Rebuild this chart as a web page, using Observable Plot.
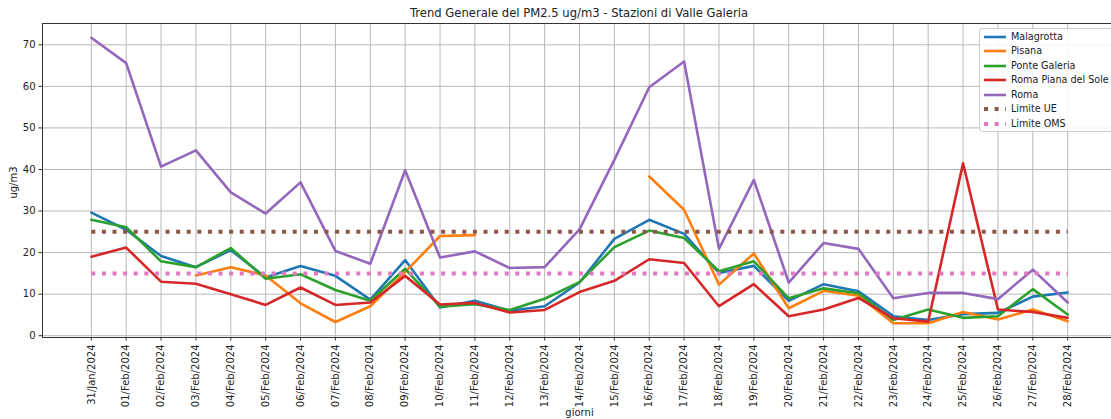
<!DOCTYPE html>
<html><head><meta charset="utf-8">
<script src="https://cdn.jsdelivr.net/npm/d3@7"></script>
<script src="https://cdn.jsdelivr.net/npm/@observablehq/plot@0.6"></script>
<style>
html,body{margin:0;padding:0;background:#fff;overflow:hidden;}
#wrap{position:relative;width:1111px;height:419px;overflow:hidden;font-family:"DejaVu Sans",sans-serif;color:#222;}
#title{height:18px;box-sizing:border-box;padding-top:4px;line-height:18px;font-size:11.6px;text-align:center;width:1074px;margin-left:42px;white-space:nowrap;}
#legend{position:absolute;left:979px;top:28px;width:140px;height:104px;box-sizing:border-box;border:1px solid #ccc;border-radius:3px;background:rgba(255,255,255,0.85);}
.row{position:absolute;left:2px;height:14px;font-size:9.6px;line-height:14px;white-space:nowrap;}
.row svg{position:absolute;left:0;top:2px;}
.row span{position:absolute;left:29px;top:0;}
</style></head><body>
<div id="wrap">
<div id="title">Trend Generale del PM2.5 ug/m3 - Stazioni di Valle Galeria</div>
<div id="chart"></div>
<div id="legend"></div>
</div>
<script>
const dates = ["31/Jan/2024","01/Feb/2024","02/Feb/2024","03/Feb/2024","04/Feb/2024","05/Feb/2024","06/Feb/2024","07/Feb/2024","08/Feb/2024","09/Feb/2024","10/Feb/2024","11/Feb/2024","12/Feb/2024","13/Feb/2024","14/Feb/2024","15/Feb/2024","16/Feb/2024","17/Feb/2024","18/Feb/2024","19/Feb/2024","20/Feb/2024","21/Feb/2024","22/Feb/2024","23/Feb/2024","24/Feb/2024","25/Feb/2024","26/Feb/2024","27/Feb/2024","28/Feb/2024"];
const malagrotta = [29.6,25.5,19.2,16.5,20.6,14.0,16.8,14.4,8.7,18.2,6.8,8.4,6.0,7.1,12.8,23.3,27.9,24.5,15.1,16.8,8.4,12.4,10.7,4.7,3.8,5.2,5.5,9.4,10.4];
const pisana = [null,null,null,14.5,16.5,14.5,7.8,3.3,7.1,15.3,24.0,24.2,null,null,null,null,38.3,30.3,12.3,19.8,6.6,10.8,9.6,3.0,3.0,5.7,3.9,6.3,3.5];
const ponteGaleria = [27.9,26.1,17.9,16.5,21.1,13.7,14.8,11.0,8.4,16.1,7.0,7.6,6.2,8.9,12.9,21.3,25.3,23.5,15.5,17.9,9.0,11.4,10.2,3.8,6.3,4.3,4.7,11.2,5.1];
const romaPianaDelSole = [19.0,21.2,13.0,12.5,10.0,7.4,11.6,7.4,8.0,14.4,7.5,7.9,5.6,6.2,10.5,13.2,18.4,17.5,7.1,12.4,4.7,6.3,9.1,4.2,3.4,41.5,6.3,5.7,4.3];
const roma = [71.7,65.6,40.7,44.6,34.5,29.4,36.9,20.4,17.3,39.8,18.8,20.3,16.3,16.5,25.6,42.3,59.8,66.0,20.9,37.5,12.8,22.3,20.9,9.0,10.3,10.3,8.8,15.9,8.0];
const limiteUE = 25;
const limiteOMS = 15;
const seriesNames = ["Malagrotta","Pisana","Ponte Galeria","Roma Piana del Sole","Roma"];
const seriesValues = [malagrotta,pisana,ponteGaleria,romaPianaDelSole,roma];
const seriesColors = ["#1f77b4","#ff7f0e","#2ca02c","#d62728","#9467bd"];
const limitNames = ["Limite UE","Limite OMS"];
const limitValues = [limiteUE,limiteOMS];
const limitColors = ["#8c564b","#e377c2"];
const yTicks = [0,10,20,30,40,50,60,70];

const table = [];
seriesNames.forEach((name,k)=>seriesValues[k].forEach((v,i)=>table.push({date:dates[i],value:v,series:name})));
const limits = [];
limitNames.forEach((name,k)=>dates.forEach(d=>limits.push({date:d,value:limitValues[k],series:name})));

const chart = Plot.plot({
  width:1116, height:401,
  marginTop:5, marginBottom:82, marginLeft:42, marginRight:0,
  style:{fontFamily:"DejaVu Sans, sans-serif", fontSize:"10px", color:"#222", maxWidth:"none", background:"transparent"},
  x:{type:"point", domain:dates, padding:1.4, round:false, label:null},
  y:{domain:[-0.43,75.13], label:null},
  color:{domain:[...seriesNames,...limitNames], range:[...seriesColors,...limitColors]},
  marks:[
    Plot.gridX(dates,{stroke:"#b8b8b8", strokeOpacity:1, strokeWidth:1}),
    Plot.gridY(yTicks,{stroke:"#b8b8b8", strokeOpacity:1, strokeWidth:1}),
    Plot.line(table,{x:"date", y:"value", z:"series", stroke:"series", strokeWidth:2.6, strokeLinejoin:"round"}),
    Plot.line(limits,{x:"date", y:"value", z:"series", stroke:"series", strokeWidth:4, strokeDasharray:"4,6.6", strokeLinecap:"butt"}),
    Plot.frame({stroke:"#333", strokeWidth:1}),
    Plot.axisY(yTicks,{tickSize:3.5, tickPadding:3.5, label:null, stroke:"#333"}),
    Plot.axisX(dates,{tickSize:3.5, tickPadding:3.5, tickRotate:-90, label:null, stroke:"#333"}),
    Plot.text(["ug/m3"],{frameAnchor:"left", textAnchor:"middle", lineAnchor:"middle", dx:-29, dy:2, rotate:-90, fontSize:10, fill:"#222"}),
    Plot.text(["giorni"],{frameAnchor:"bottom", textAnchor:"middle", lineAnchor:"middle", dy:75, fontSize:10, fill:"#222"})
  ]
});
document.getElementById("chart").appendChild(chart);

const legend = document.getElementById("legend");
const items = [
  ...seriesNames.map((n,i)=>({name:n,color:seriesColors[i],dotted:false})),
  ...limitNames.map((n,i)=>({name:n,color:limitColors[i],dotted:true}))
];
items.forEach((it,i)=>{
  const row = document.createElement("div");
  row.className="row";
  row.style.top = (0.7 + i*14.5) + "px";
  const svg = d3.create("svg").attr("width",24).attr("height",10);
  svg.append("line").attr("x1",2).attr("x2",24).attr("y1",5).attr("y2",5)
    .attr("stroke",it.color).attr("stroke-width",it.dotted?4:2.6)
    .attr("stroke-dasharray",it.dotted?"4,6.6":null);
  row.appendChild(svg.node());
  const sp = document.createElement("span");
  sp.textContent = it.name;
  row.appendChild(sp);
  legend.appendChild(row);
});
</script>
</body></html>
